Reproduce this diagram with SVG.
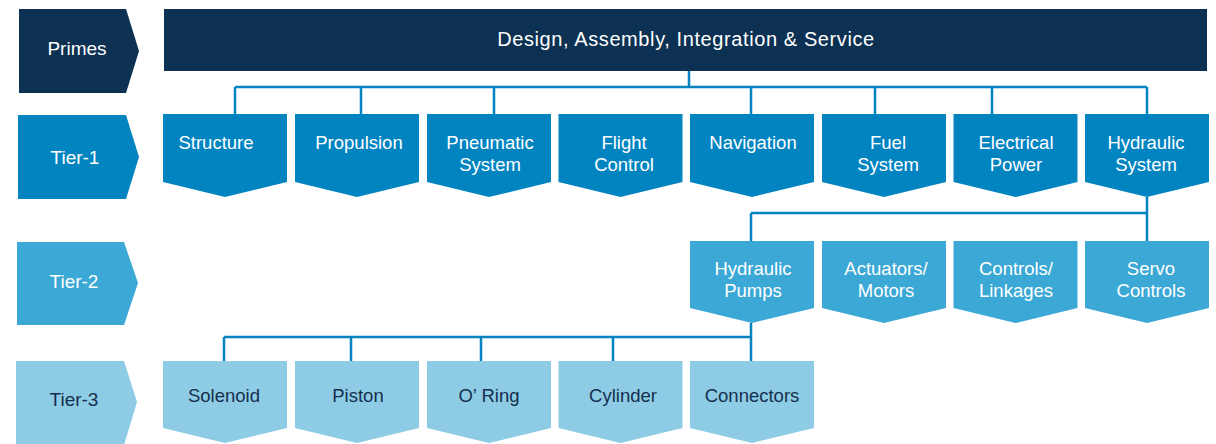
<svg xmlns="http://www.w3.org/2000/svg" width="1216" height="444" viewBox="0 0 1216 444">
<style>
text{font-family:"Liberation Sans",Arial,Helvetica,sans-serif;text-anchor:middle}
.lbl{font-size:19px;fill:#fff}
.n{font-size:18.5px;fill:#fff}
.dk{fill:#15304e}
.navy{fill:#0c3152}
.t1{fill:#0284c1}
.t2{fill:#3ba8d5}
.t3{fill:#8ecbe4}
.conn{fill:none;stroke:#0284c1;stroke-width:2.5}
</style>
<rect width="1216" height="444" fill="#fff"/>
<g id="row-labels">
<g id="lbl-primes"><polygon class="navy" points="19,9 126,9 139,51 126,93 19,93"/><text class="lbl" x="77" y="55">Primes</text></g>
<g id="lbl-tier1"><polygon class="t1" points="18,115 126,115 139,157 126,199 18,199"/><text class="lbl" x="75" y="164">Tier-1</text></g>
<g id="lbl-tier2"><polygon class="t2" points="17,242 124,242 138,283 124,325 17,325"/><text class="lbl" x="74" y="288">Tier-2</text></g>
<g id="lbl-tier3"><polygon class="t3" points="16,361 124,361 137,402 124,445 16,445"/><text class="lbl dk" x="74" y="406">Tier-3</text></g>
</g>
<g id="primes-bar"><rect class="navy" x="164" y="9" width="1043" height="62"/><text x="686" y="46" style="font-size:20px;fill:#fff;letter-spacing:0.6px">Design, Assembly, Integration &amp; Service</text></g>
<g id="connectors" class="conn">
<path d="M689 71V87M235 87H1147M235 87V114M361 87V114M494 87V114M751 87V114M875 87V114M992 87V114M1147 87V114"/>
<path d="M1147 197V241M751 213H1147M751 213V241"/>
<path d="M751 323V337M224 337H751M224 337V361M351 337V361M481 337V361M613 337V361M751 337V361"/>
</g>
<g id="tier1">
<g id="structure"><polygon class="t1" points="163,114 287,114 287,182 225,197 163,182"/><text class="n" x="216" y="149">Structure</text></g>
<g id="propulsion"><polygon class="t1" points="295,114 419,114 419,182 357,197 295,182"/><text class="n" x="359" y="149">Propulsion</text></g>
<g id="pneumatic"><polygon class="t1" points="427,114 551,114 551,182 489,197 427,182"/><text class="n" x="490" y="149">Pneumatic</text><text class="n" x="490" y="171">System</text></g>
<g id="flight"><polygon class="t1" points="558.5,114 682.5,114 682.5,182 620.5,197 558.5,182"/><text class="n" x="624" y="149">Flight</text><text class="n" x="624" y="171">Control</text></g>
<g id="navigation"><polygon class="t1" points="690,114 814,114 814,182 752,197 690,182"/><text class="n" x="753" y="149">Navigation</text></g>
<g id="fuel"><polygon class="t1" points="822,114 946,114 946,182 884,197 822,182"/><text class="n" x="888" y="149">Fuel</text><text class="n" x="888" y="171">System</text></g>
<g id="electrical"><polygon class="t1" points="953.5,114 1077.5,114 1077.5,182 1015.5,197 953.5,182"/><text class="n" x="1016" y="149">Electrical</text><text class="n" x="1016" y="171">Power</text></g>
<g id="hydraulic-system"><polygon class="t1" points="1085,114 1209,114 1209,182 1147,197 1085,182"/><text class="n" x="1146" y="149">Hydraulic</text><text class="n" x="1146" y="171">System</text></g>
</g>
<g id="tier2">
<g id="hydraulic-pumps"><polygon class="t2" points="690,241 814,241 814,308 752,323 690,308"/><text class="n" x="753" y="275">Hydraulic</text><text class="n" x="753" y="297">Pumps</text></g>
<g id="actuators"><polygon class="t2" points="822,241 946,241 946,308 884,323 822,308"/><text class="n" x="886" y="275">Actuators/</text><text class="n" x="886" y="297">Motors</text></g>
<g id="controls"><polygon class="t2" points="953.5,241 1077.5,241 1077.5,308 1015.5,323 953.5,308"/><text class="n" x="1016" y="275">Controls/</text><text class="n" x="1016" y="297">Linkages</text></g>
<g id="servo"><polygon class="t2" points="1085,241 1209,241 1209,308 1147,323 1085,308"/><text class="n" x="1151" y="275">Servo</text><text class="n" x="1151" y="297">Controls</text></g>
</g>
<g id="tier3">
<g id="solenoid"><polygon class="t3" points="163,361 287,361 287,428 225,443 163,428"/><text class="n dk" x="224" y="402">Solenoid</text></g>
<g id="piston"><polygon class="t3" points="295,361 419,361 419,428 357,443 295,428"/><text class="n dk" x="358" y="402">Piston</text></g>
<g id="oring"><polygon class="t3" points="427,361 551,361 551,428 489,443 427,428"/><text class="n dk" x="489" y="402">O’ Ring</text></g>
<g id="cylinder"><polygon class="t3" points="558.5,361 682.5,361 682.5,428 620.5,443 558.5,428"/><text class="n dk" x="623" y="402">Cylinder</text></g>
<g id="connectors-node"><polygon class="t3" points="690,361 814,361 814,428 752,443 690,428"/><text class="n dk" x="752" y="402">Connectors</text></g>
</g>
</svg>
